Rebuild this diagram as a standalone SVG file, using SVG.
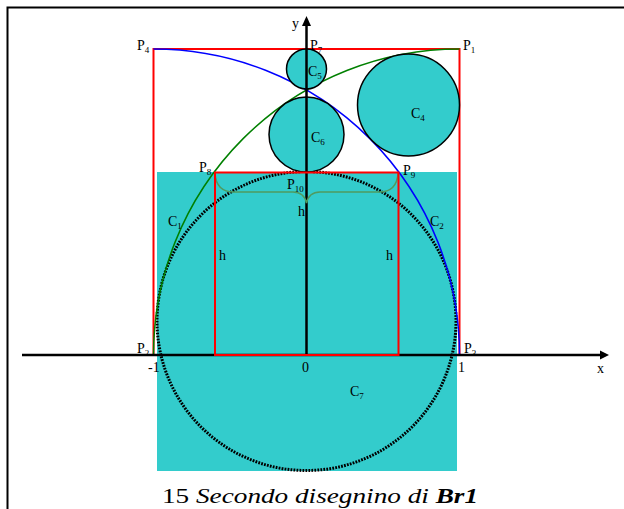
<svg xmlns="http://www.w3.org/2000/svg" width="624" height="509" viewBox="0 0 624 509">
<defs>
<style>
.lbl{font-family:"Liberation Serif","DejaVu Serif",serif;font-size:14px;fill:#000}
.sub{font-size:9px}
.red{fill:none;stroke:#ff0000;stroke-width:2}
.circ{fill:#33cccc;stroke:#000;stroke-width:1.5}
.axis{stroke:#000;stroke-width:2.5;fill:none}
.cap{font-family:"Liberation Serif","DejaVu Serif",serif;font-size:20px;fill:#000}
</style>
</defs>
<rect width="624" height="509" fill="#fff"/>
<path d="M7.5,509 V7.5 H624" fill="none" stroke="#000" stroke-width="2"/>
<g id="teal-box"><rect x="157" y="172" width="300" height="299" fill="#33cccc"/></g>
<g id="C7"><circle cx="306.5" cy="321" r="149.5" fill="none" stroke="#000" stroke-width="3" stroke-dasharray="1.8 1.2"/></g>
<g id="big-square"><path class="red" d="M153.5,355 V49 H459.5 V355"/></g>
<g id="C1"><path d="M153.5,355 A306,306 0 0 1 459.5,49" fill="none" stroke="#008000" stroke-width="1.5"/></g>
<g id="C2"><path d="M153.5,49 A306,306 0 0 1 459.5,355" fill="none" stroke="#0000ff" stroke-width="1.5"/></g>
<g id="C4"><circle class="circ" cx="408.5" cy="105" r="51"/></g>
<g id="C5"><circle class="circ" cx="306.5" cy="69" r="20"/></g>
<g id="C6"><circle class="circ" cx="306.5" cy="134.5" r="37.5"/></g>
<g id="connectors">
<path class="axis" d="M22,355 H601"/>
<path d="M609,355 L600,350.5 L600,359.5 Z" fill="#000"/>
<path class="axis" d="M306.5,355 V25"/>
<path d="M306.5,16 L302,26 L311,26 Z" fill="#000"/>
<path d="M215,173 Q216,192 234,192 L293,192 Q304,192 306.5,203 Q309,192 320,192 L379,192 Q397,192 398,173" fill="none" stroke="#4f9a5f" stroke-width="1.5"/>
</g>
<g id="small-square"><rect class="red" x="215" y="172.5" width="183.5" height="182.5"/></g>
<g id="labels">
<text class="lbl" x="137" y="50">P<tspan class="sub" dy="3">4</tspan></text>
<text class="lbl" x="310" y="50">P<tspan class="sub" dy="3">7</tspan></text>
<text class="lbl" x="463" y="50">P<tspan class="sub" dy="3">1</tspan></text>
<text class="lbl" x="292" y="28">y</text>
<text class="lbl" x="308" y="76">C<tspan class="sub" dy="3">5</tspan></text>
<text class="lbl" x="411" y="118">C<tspan class="sub" dy="3">4</tspan></text>
<text class="lbl" x="311" y="142">C<tspan class="sub" dy="3">6</tspan></text>
<text class="lbl" x="199" y="172">P<tspan class="sub" dy="3">8</tspan></text>
<text class="lbl" x="403" y="175">P<tspan class="sub" dy="3">9</tspan></text>
<text class="lbl" x="287" y="189">P<tspan class="sub" dy="3">10</tspan></text>
<text class="lbl" x="298" y="216">h</text>
<text class="lbl" x="168" y="226">C<tspan class="sub" dy="3">1</tspan></text>
<text class="lbl" x="430" y="226">C<tspan class="sub" dy="3">2</tspan></text>
<text class="lbl" x="219" y="260">h</text>
<text class="lbl" x="386" y="260">h</text>
<text class="lbl" x="137" y="353">P<tspan class="sub" dy="3">2</tspan></text>
<text class="lbl" x="464" y="353">P<tspan class="sub" dy="3">3</tspan></text>
<text class="lbl" x="148" y="372">-1</text>
<text class="lbl" x="302" y="372">0</text>
<text class="lbl" x="458" y="372">1</text>
<text class="lbl" x="597" y="373">x</text>
<text class="lbl" x="350" y="396">C<tspan class="sub" dy="3">7</tspan></text>
</g>
<text class="cap" x="162" y="503" textLength="316" lengthAdjust="spacingAndGlyphs">15 <tspan font-style="italic">Secondo disegnino di </tspan><tspan font-style="italic" font-weight="bold">Br1</tspan></text>
</svg>
